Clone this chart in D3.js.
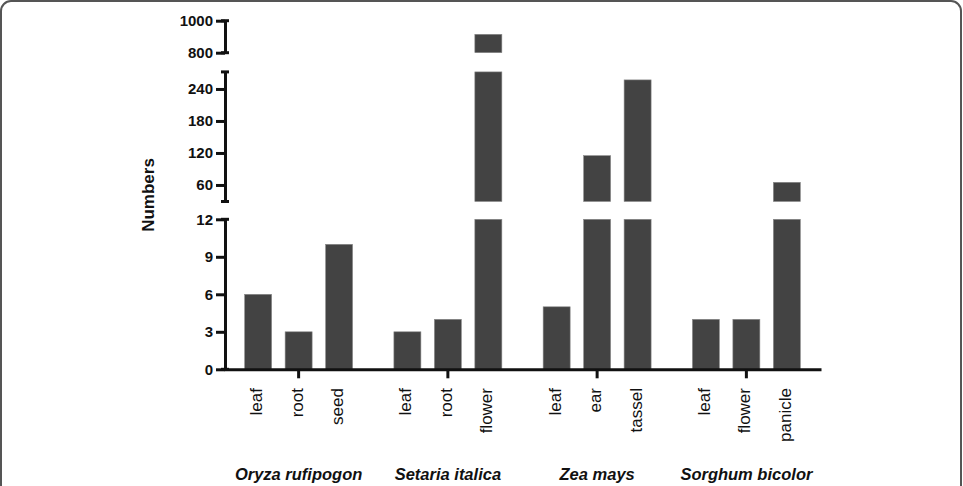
<!DOCTYPE html>
<html lang="en">
<head>
  <meta charset="UTF-8">
  <title>Numbers by tissue</title>
  <script src="https://d3js.org/d3.v7.min.js"></script>
  <style>
    body { margin: 0; background: #fff; }
    text { font-family: Arial, "Liberation Sans", sans-serif; fill: #111; }
    .tick-lab { font-size: 15px; font-weight: bold; }
    .cat-lab { font-size: 17px; }
    .grp-lab { font-size: 16.5px; font-weight: bold; font-style: italic; }
    .axis-title { font-size: 17px; font-weight: bold; }
  </style>
</head>
<body>
  <script>
    // data
    const groups = ["Oryza rufipogon", "Setaria italica", "Zea mays", "Sorghum bicolor"];
    const tissues = [
      ["leaf", "root", "seed"],
      ["leaf", "root", "flower"],
      ["leaf", "ear", "tassel"],
      ["leaf", "flower", "panicle"]
    ];
    const counts = [
      [6, 3, 10],
      [3, 4, 915],
      [5, 115, 257],
      [4, 4, 65]
    ];
    const ticksLow = [0, 3, 6, 9, 12];
    const ticksMid = [60, 120, 180, 240];
    const ticksHigh = [800, 1000];

    const W = 963, H = 486;
    const axisX = 225;

    const svg = d3.select("body").append("svg")
      .attr("width", W).attr("height", H);

    // frame
    svg.append("rect")
      .attr("x", 1).attr("y", 1).attr("width", W - 3).attr("height", H + 20)
      .attr("rx", 10)
      .attr("fill", "none").attr("stroke", "#555").attr("stroke-width", 2);

    // three y segments of the broken axis
    const segments = [
      { y: d3.scaleLinear().domain([0, 12]).range([369.3, 219.3]), ticks: ticksLow },
      { y: d3.scaleLinear().domain([29, 272]).range([201.5, 71.9]), ticks: ticksMid },
      { y: d3.scaleLinear().domain([800, 1000]).range([52.7, 20.7]), ticks: ticksHigh }
    ];

    // x scales
    const xGroup = d3.scaleBand().domain(groups).range([axisX - 1, 821]).padding(0);
    const xInner = d3.scaleBand().domain([0, 1, 2]).range([0, xGroup.bandwidth()])
      .paddingInner(0.333).paddingOuter(0.51);

    const bars = [];
    groups.forEach((g, gi) => {
      tissues[gi].forEach((t, ti) => {
        bars.push({ group: g, i: ti, tissue: t, value: counts[gi][ti] });
      });
    });

    // bars, one piece per segment
    segments.forEach(seg => {
      const [lo, hi] = seg.y.domain();
      const pieces = bars.filter(d => d.value > lo);
      svg.append("g").selectAll("rect")
        .data(pieces)
        .enter().append("rect")
        .attr("x", d => xGroup(d.group) + xInner(d.i))
        .attr("width", xInner.bandwidth())
        .attr("y", d => seg.y(Math.min(d.value, hi)))
        .attr("height", d => seg.y(lo) - seg.y(Math.min(d.value, hi)))
        .attr("fill", "#434343")
        .attr("stroke", "#8a8a8a").attr("stroke-width", 0.6);
    });

    // y axes
    segments.forEach(seg => {
      const g = svg.append("g")
        .attr("transform", `translate(${axisX},0)`)
        .call(d3.axisLeft(seg.y).tickValues(seg.ticks).tickFormat(d3.format("d"))
          .tickSize(9).tickSizeOuter(0).tickPadding(3));
      g.select(".domain").attr("stroke", "#111").attr("stroke-width", 3);
      g.selectAll(".tick line").attr("stroke", "#111").attr("stroke-width", 3);
      g.selectAll(".tick text").attr("class", "tick-lab").attr("fill", "#111");
      // end caps
      seg.y.range().forEach(py => {
        g.append("line")
          .attr("x1", -4).attr("x2", 4)
          .attr("y1", py).attr("y2", py)
          .attr("stroke", "#111").attr("stroke-width", 3);
      });
    });

    // x axis
    const y0 = segments[0].y(0);
    const gx = svg.append("g")
      .attr("transform", `translate(0,${y0})`)
      .call(d3.axisBottom(xGroup).tickSize(9).tickSizeOuter(0).tickFormat(""));
    gx.select(".domain").attr("stroke", "#111").attr("stroke-width", 3);
    gx.selectAll(".tick line").attr("stroke", "#111").attr("stroke-width", 3);

    // tissue labels
    svg.append("g").selectAll("text")
      .data(bars)
      .enter().append("text")
      .attr("class", "cat-lab")
      .attr("text-anchor", "end")
      .attr("dy", "0.35em")
      .attr("transform", d => {
        const cx = xGroup(d.group) + xInner(d.i) + xInner.bandwidth() / 2 - 2;
        return `translate(${cx},388) rotate(-90)`;
      })
      .text(d => d.tissue);

    // species labels
    svg.append("g").selectAll("text")
      .data(groups)
      .enter().append("text")
      .attr("class", "grp-lab")
      .attr("text-anchor", "middle")
      .attr("x", d => xGroup(d) + xGroup.bandwidth() / 2)
      .attr("y", 480)
      .text(d => d);

    // y title
    svg.append("text")
      .attr("class", "axis-title")
      .attr("text-anchor", "middle")
      .attr("transform", "translate(154,195) rotate(-90)")
      .text("Numbers");
  </script>
</body>
</html>
